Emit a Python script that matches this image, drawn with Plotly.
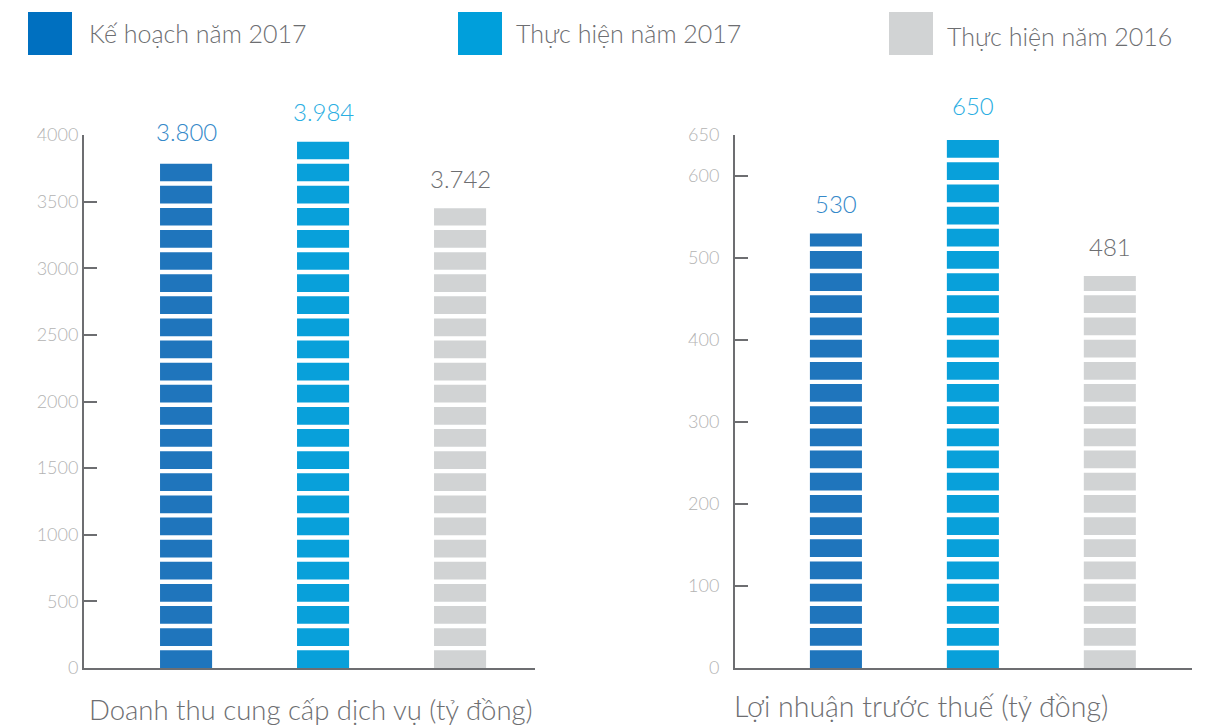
import plotly.graph_objects as go

# ---------------- data ----------------
series = ["Kế hoạch năm 2017", "Thực hiện năm 2017", "Thực hiện năm 2016"]

revenue_labels = ["3.800", "3.984", "3.742"]      # values printed above the bars
revenue_bars = [3800, 3950, 3450]                 # bar heights as drawn (tỷ đồng)
profit_labels = ["530", "650", "481"]
profit_bars = [530, 650, 478]

revenue_ticks = [0, 500, 1000, 1500, 2000, 2500, 3000, 3500, 4000]
profit_ticks = [0, 100, 200, 300, 400, 500, 600, 650]

revenue_title = "Doanh thu cung cấp dịch vụ (tỷ đồng)"
profit_title = "Lợi nhuận trước thuế (tỷ đồng)"

# ---------------- style ----------------
bar_colors = ["#1f75bc", "#08a0da", "#d1d3d4"]
legend_colors = ["#0070c0", "#009fdb", "#d1d3d4"]
label_colors = ["#3589c9", "#2aaee2", "#6d6e71"]
axis_color = "#6d6e71"
tick_font_color = "#b3b3b3"
text_color = "#6d6e71"
FONT = "Lato, 'Open Sans', sans-serif"
LIGHT = 300

W, H = 1208, 726


def segments(value, step, gap):
    """split a bar into stacked stripes: returns bases and heights"""
    bases, heights = [], []
    k = 0
    while k * step < value:
        base = k * step
        top = min((k + 1) * step - gap, value)
        if top - base > 1.5 * gap:
            bases.append(base)
            heights.append(top - base)
        k += 1
    return bases, heights


fig = go.Figure()

# panel geometry (pixel -> paper)
dom_y = [(H - 668) / H, (H - 135) / H]
left_dom = [84 / W, 535 / W]
right_dom = [735 / W, 1192 / W]

panels = [
    dict(xa="x", ya="y", bars=revenue_bars, labels=revenue_labels, step=166.0, gap=33.0),
    dict(xa="x2", ya="y2", bars=profit_bars, labels=profit_labels, step=27.05, gap=5.4),
]

for p in panels:
    for i, name in enumerate(series):
        bases, heights = segments(p["bars"][i], p["step"], p["gap"])
        fig.add_trace(go.Bar(
            x=[i] * len(heights), y=heights, base=bases,
            width=0.38, marker=dict(color=bar_colors[i], line=dict(width=0)),
            name=name, showlegend=False, xaxis=p["xa"], yaxis=p["ya"],
            hoverinfo="skip",
        ))
        fig.add_annotation(
            x=i, y=p["bars"][i], xref=p["xa"], yref=p["ya"],
            text=p["labels"][i], showarrow=False, yshift=30,
            font=dict(family=FONT, size=24, color=label_colors[i], weight=LIGHT),
        )

common_x = dict(showline=True, linecolor=axis_color, linewidth=2, showgrid=False,
                zeroline=False, showticklabels=False, ticks="", fixedrange=True,
                automargin=False)
common_y = dict(showline=True, linecolor=axis_color, linewidth=2, showgrid=False,
                zeroline=False, ticks="inside", ticklen=13, tickwidth=2,
                tickcolor=axis_color, automargin=False,
                tickfont=dict(family=FONT, size=18, color=tick_font_color, weight=LIGHT),
                fixedrange=True)

fig.update_layout(
    width=W, height=H,
    margin=dict(l=0, r=0, t=0, b=0, autoexpand=False),
    paper_bgcolor="white", plot_bgcolor="white",
    barmode="overlay",
    showlegend=False,
    xaxis=dict(domain=left_dom, range=[-0.745, 2.547], anchor="y", **common_x),
    yaxis=dict(domain=dom_y, range=[0, 4000], anchor="x", tickvals=revenue_ticks,
               ticklabelstandoff=0, **common_y),
    xaxis2=dict(domain=right_dom, range=[-0.737, 2.6], anchor="y2", **common_x),
    yaxis2=dict(domain=dom_y, range=[0, 650], anchor="x2", tickvals=profit_ticks,
                ticklabelstandoff=10, **common_y),
)

# custom legend (large squares)
legend_sq = [(28, 72, 12, 55), (458, 502, 12, 55), (889, 933, 12, 55)]
legend_txt = [(87, 33), (514, 33), (945, 36)]
for i, name in enumerate(series):
    x0, x1, y0, y1 = legend_sq[i]
    fig.add_shape(type="rect", xref="paper", yref="paper",
                  x0=x0 / W, x1=x1 / W, y0=1 - y1 / H, y1=1 - y0 / H,
                  fillcolor=legend_colors[i], line=dict(width=0))
    tx, ty = legend_txt[i]
    fig.add_annotation(x=tx / W, y=1 - ty / H, xref="paper", yref="paper",
                       xanchor="left", yanchor="middle", showarrow=False,
                       text=name, font=dict(family=FONT, size=25, color=text_color,
                                            weight=LIGHT))

# axis titles
fig.add_annotation(x=311 / W, y=(H - 709) / H, xref="paper", yref="paper",
                   xanchor="center", yanchor="middle", showarrow=False,
                   text=revenue_title, font=dict(family=FONT, size=27.5, color=text_color,
                                                 weight=LIGHT))
fig.add_annotation(x=921 / W, y=(H - 706) / H, xref="paper", yref="paper",
                   xanchor="center", yanchor="middle", showarrow=False,
                   text=profit_title, font=dict(family=FONT, size=28.5, color=text_color,
                                                weight=LIGHT))

fig.write_html("out.html", config={"displayModeBar": False},
               post_script="document.body.style.margin='0';document.body.style.overflow='hidden';")
